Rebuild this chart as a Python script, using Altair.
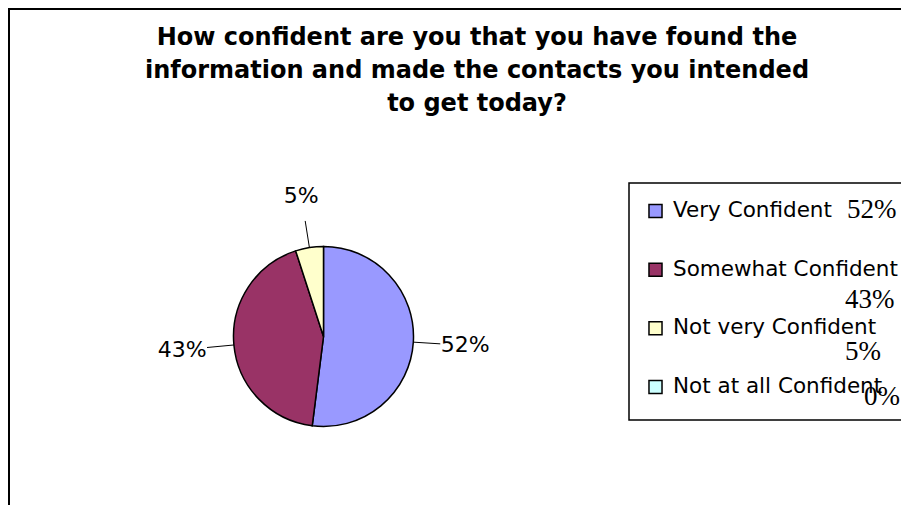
import math
import altair as alt
import pandas as pd

# ---- data ----
categories = ["Very Confident", "Somewhat Confident", "Not very Confident", "Not at all Confident"]
percents = [52, 43, 5, 0]
colors = ["#9999FF", "#993366", "#FFFFCC", "#CCFFFF"]
title_lines = [
    "How confident are you that you have found the",
    "information and made the contacts you intended",
    "to get today?",
]

# ---- layout (plot-area pixels) ----
W, H = 893, 497
CX, CY, R = 315.5, 328.5, 90

df = pd.DataFrame({
    "idx": list(range(len(categories))),
    "category": categories,
    "pct": percents,
    "label": [f"{p}%" for p in percents],
})
pie_df = df[df["pct"] > 0].copy()

# leader lines computed from slice mid-angles
cum = 0.0
rows = []
for _, r in pie_df.iterrows():
    mid = (cum + r["pct"] / 2) / 100 * 2 * math.pi
    cum += r["pct"]
    rows.append({
        "category": r["category"],
        "x1": math.sin(mid), "y1": -math.cos(mid),
        "x2": 1.3 * math.sin(mid), "y2": -1.3 * math.cos(mid),
    })
lead_df = pd.DataFrame(rows)

color_scale = alt.Scale(domain=categories, range=colors)

pie = alt.Chart(pie_df).mark_arc(outerRadius=R, stroke="black", strokeWidth=1.5).encode(
    theta=alt.Theta("pct:Q", stack=True),
    color=alt.Color("category:N", scale=color_scale, legend=None),
    order=alt.Order("idx:Q"),
    x=alt.value(CX), y=alt.value(CY),
)

pie_labels = alt.Chart(pie_df).mark_text(
    radius=142, font="DejaVu Sans", fontSize=22, color="black", baseline="middle", align="center"
).encode(
    theta=alt.Theta("pct:Q", stack=True),
    order=alt.Order("idx:Q"),
    text="label:N",
    x=alt.value(CX), y=alt.value(CY),
)

leaders = alt.Chart(lead_df).mark_rule(color="black", strokeWidth=1).encode(
    x=alt.X("x1:Q", scale=alt.Scale(domain=[-1, 1], range=[CX - R, CX + R]), axis=None),
    x2="x2:Q",
    y=alt.Y("y1:Q", scale=alt.Scale(domain=[-1, 1], range=[CY - R, CY + R]), axis=None),
    y2="y2:Q",
)

# outer frame and legend box
frame = alt.Chart(pd.DataFrame({"k": [0]})).mark_rect(
    fill=None, stroke="black", strokeWidth=3
).encode(x=alt.value(0.5), x2=alt.value(W + 50), y=alt.value(0.5), y2=alt.value(H + 50))

legend_box = alt.Chart(pd.DataFrame({"k": [0]})).mark_rect(
    fill="white", stroke="black", strokeWidth=1.5
).encode(x=alt.value(621), x2=alt.value(W + 50), y=alt.value(175), y2=alt.value(412))

row_scale = alt.Scale(type="point", domain=categories, range=[203, 379], padding=0)

swatches = alt.Chart(df).mark_square(size=170, stroke="black", strokeWidth=1.5, opacity=1).encode(
    x=alt.value(647.5),
    y=alt.Y("category:N", scale=row_scale, axis=None),
    color=alt.Color("category:N", scale=color_scale, legend=None),
)

legend_text = alt.Chart(df).mark_text(
    align="left", baseline="middle", font="DejaVu Sans", fontSize=21.5, color="black"
).encode(
    x=alt.value(665),
    y=alt.Y("category:N", scale=row_scale, axis=None),
    text="category:N",
)

# percentage text in the legend wraps differently on each row
pct_layout = [("left", 839, -1), ("left", 837, 30), ("left", 837, 24), ("right", 892, 10)]
pct_layers = []
for cat, (al, px, dy) in zip(categories, pct_layout):
    pct_layers.append(
        alt.Chart(df).transform_filter(alt.datum.category == cat).mark_text(
            align=al, baseline="middle", font="Liberation Serif", fontSize=27, color="black", dy=dy
        ).encode(
            x=alt.value(px),
            y=alt.Y("category:N", scale=row_scale, axis=None),
            text="label:N",
        )
    )

title = alt.Chart(pd.DataFrame({"t": ["\n".join(title_lines)]})).mark_text(
    align="center", baseline="alphabetic", font="DejaVu Sans", fontWeight="bold",
    fontSize=24, lineBreak="\n", lineHeight=33, color="black"
).encode(x=alt.value(469), y=alt.value(37), text="t:N")

chart = alt.layer(
    frame, title, pie, leaders, pie_labels, legend_box, swatches, legend_text, *pct_layers
).resolve_scale(x="independent", y="independent").properties(
    width=W, height=H, autosize=alt.AutoSizeParams(type="none"), padding=0,
    background="white",
).configure_view(stroke=None)

chart.save("out.html", embed_options={"renderer": "svg", "actions": False})
